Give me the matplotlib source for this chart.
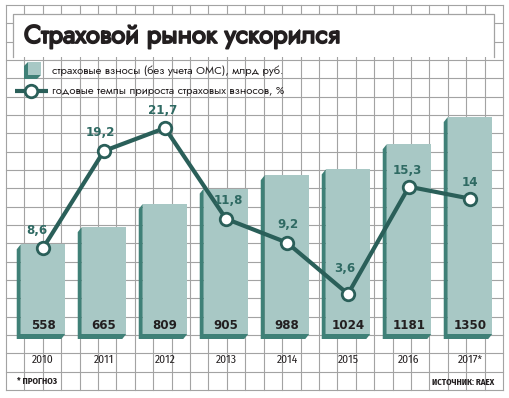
import matplotlib
matplotlib.use('Agg')
import matplotlib.pyplot as plt
from matplotlib.patches import Rectangle
import matplotlib.patheffects as pe
import numpy as np

# data
years = ['2010', '2011', '2012', '2013', '2014', '2015', '2016', '2017*']
premiums = [558, 665, 809, 905, 988, 1024, 1181, 1350]          # млрд руб.
growth = [8.6, 19.2, 21.7, 11.8, 9.2, 3.6, 15.3, 14]             # %
growth_labels = ['8,6', '19,2', '21,7', '11,8', '9,2', '3,6', '15,3', '14']

W, H = 510, 398
LIGHT = '#a8c8c5'
DARK = '#3f8077'
LINE = '#2a5f59'
LABEL = '#2f6a63'
GRID = '#a3a3a3'
TEXT = '#231f20'
NARROW = ['Fira Sans Condensed', 'DejaVu Sans']
ROUND = ['Jost', 'DejaVu Sans']

fig = plt.figure(figsize=(W / 100, H / 100), dpi=100)

# background: squared paper, title box, legend (pixel coordinates)
bg = fig.add_axes([0, 0, 1, 1])
bg.set_xlim(0, W)
bg.set_ylim(H, 0)
bg.axis('off')

for x in np.linspace(6, 503, 28):
    bg.plot([x, x], [5, 390], color=GRID, lw=0.8, zorder=1)
for y in np.linspace(5, 390, 22):
    bg.plot([6, 503], [y, y], color=GRID, lw=0.8, zorder=1)

bg.add_patch(Rectangle((13, 14), 481, 43, fc='white', ec='none', zorder=2))
bg.plot([13, 13, 494, 494], [57, 14, 14, 57], color=GRID, lw=0.9, zorder=3)
bg.text(24, 43, 'Страховой рынок ускорился', family=ROUND,
        weight='bold', fontsize=18.3, color=TEXT, va='baseline', ha='left', zorder=4,
        path_effects=[pe.withStroke(linewidth=1.3, foreground=TEXT)])

# legend
bg.fill([28, 24, 24, 37, 41, 28], [62, 66, 79, 79, 75, 75], color=DARK, lw=0, zorder=3)
bg.add_patch(Rectangle((28, 62), 13, 13, fc=LIGHT, ec='none', zorder=4))
bg.text(52, 71, 'страховые взносы (без учета ОМС), млрд руб.', family=ROUND,
        fontsize=8.1, color=TEXT, va='center', ha='left', zorder=4)
bg.plot([15, 48], [91, 91], color=LINE, lw=3, zorder=3, solid_capstyle='butt')
bg.plot([31], [91], 'o', ms=9, mfc='white', mec=LINE, mew=2, zorder=4)
bg.text(52, 91, 'годовые темпы прироста страховых взносов, %', family=ROUND,
        fontsize=8.1, color=TEXT, va='center', ha='left', zorder=4)

# bars
px_x, step = 43, 61            # first bar centre and spacing, px
base_y, k = 334, 0.1607        # bar baseline px, px per млрд руб.
ax = fig.add_axes([0, 0, 1, 1])
ax.set_xlim(-px_x / step, (W - px_x) / step)
ax.set_ylim(-(H - base_y) / k, base_y / k)
ax.axis('off')
ax.patch.set_visible(False)

xs = np.arange(len(years))
bw = 0.73
dx, dy = 4 / step, 5 / k
for i, v in zip(xs, premiums):
    x0, x1 = i - bw / 2, i + bw / 2
    ax.fill([x0, x0 - dx, x0 - dx, x1 - dx, x1, x0],
            [v, v - dy, -dy, -dy, 0, 0], color=DARK, lw=0, zorder=2)
ax.bar(xs, premiums, width=bw, color=LIGHT, zorder=3)
for i, v in zip(xs, premiums):
    ax.text(i, 56, str(v), ha='center', va='center', fontsize=8.6,
            weight='bold', family='DejaVu Sans', color=TEXT, zorder=5)
for i, lab in zip(xs, years):
    ax.text(i, -(360 - base_y) / k, lab, ha='center', va='center',
            fontsize=8.3, family=NARROW, color=TEXT)

# growth line
zero_y, kp = 327, 9.17
lx = ax.twinx()
lx.set_ylim(-(H - zero_y) / kp, zero_y / kp)
lx.axis('off')
lx.patch.set_visible(False)
lx.plot(xs, growth, color=LINE, lw=3, marker='o', ms=9, mfc='white',
        mec=LINE, mew=2, zorder=6)
offsets = [(-6, 18), (-4, 18), (-2, 18), (2, 18), (1, 18), (-3, 25), (-2, 16), (0, 16)]
for i, v, lab, off in zip(xs, growth, growth_labels, offsets):
    lx.annotate(lab, (i, v), xytext=off, textcoords='offset pixels',
                ha='center', va='center', fontsize=8.6, weight='bold',
                family='DejaVu Sans', color=LABEL, zorder=7)

# footnotes
bg.text(17, 381, '* ПРОГНОЗ', family=NARROW, weight='bold',
        fontsize=6.3, color=TEXT, va='center', ha='left', zorder=4)
bg.text(494, 382, 'ИСТОЧНИК: RAEX', family=NARROW, weight='bold',
        fontsize=6.3, color=TEXT, va='center', ha='right', zorder=4)

fig.savefig('out.png', dpi=100)
